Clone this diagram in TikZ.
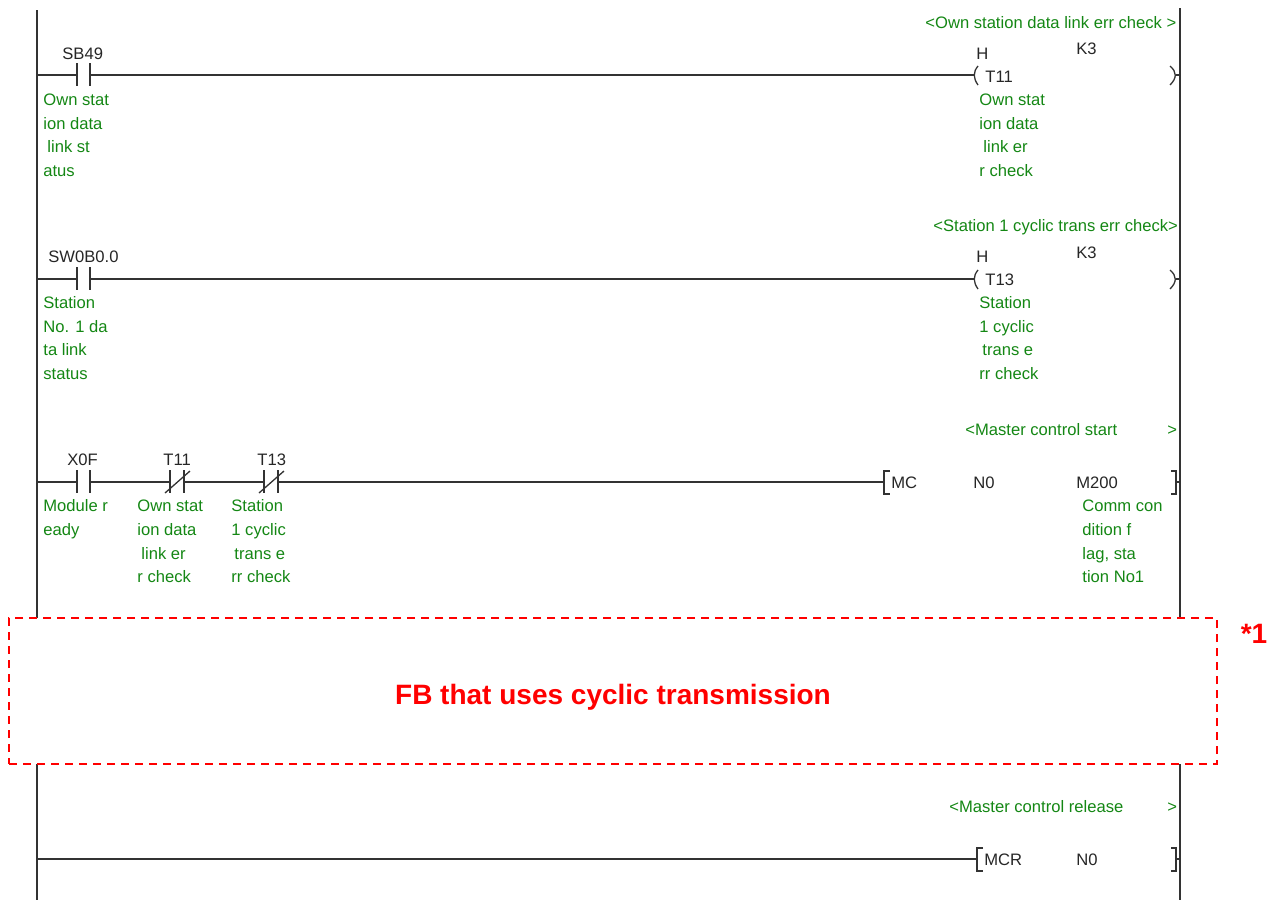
\documentclass[tikz,border=0pt]{standalone}
\usepackage{fontspec}
\setmainfont{Liberation Sans}
\usepackage{xcolor}
\usetikzlibrary{calc}
\definecolor{cmtgreen}{RGB}{20,135,20}
\definecolor{fbred}{RGB}{255,0,0}
\tikzset{
	wire/.style={line width=0.65pt,black!80},
	cmt/.style={anchor=base west,inner sep=0pt,text=cmtgreen,font=\fontsize{8.3}{10}\selectfont},
	dev/.style={anchor=base west,inner sep=0pt,text=black!85,font=\fontsize{8.3}{10}\selectfont},
	fbtxt/.style={inner sep=0pt,text=fbred,font=\fontsize{14}{16}\bfseries\selectfont}
}
\begin{document}
\begin{tikzpicture}[x=0.5pt,y=-0.5pt]
		\useasboundingbox (0,0) rectangle (1278,900);
		% rails
		\coordinate (railLa) at (37,10);
		\coordinate (railLb) at (37,618);
		\coordinate (railLc) at (37,764);
		\coordinate (railLd) at (37,900);
		\coordinate (railRa) at (1180,8);
		\coordinate (railRb) at (1180,618);
		\coordinate (railRc) at (1180,764);
		\coordinate (railRd) at (1180,900);
		\draw[wire] (railLa)--(railLb);
		\draw[wire] (railLc)--(railLd);
		\draw[wire] (railRa)--(railRb);
		\draw[wire] (railRc)--(railRd);
		% rung 1
		\coordinate (sbw) at (37,75);
		\coordinate (sba) at (77,75);
		\coordinate (sbb) at (90,75);
		\coordinate (tea) at (975,75);
		\coordinate (teb) at (1176,75);
		\coordinate (tee) at (1180,75);
		\draw[wire] (sbw)--(sba);
		\draw[wire] (sbb)--(tea);
		\draw[wire] (teb)--(tee);
		\draw[wire] ($(sba)+(0,-12)$)--($(sba)+(0,11)$);
		\draw[wire] ($(sbb)+(0,-12)$)--($(sbb)+(0,11)$);
		\draw[wire] ($(tea)+(3,-9)$) .. controls ($(tea)+(-2,-3)$) and ($(tea)+(-2,3)$) .. ($(tea)+(3,10)$);
		\draw[wire] ($(teb)+(-6,-9)$) .. controls ($(teb)+(1,-3)$) and ($(teb)+(1,3)$) .. ($(teb)+(-6,10)$);
		\node[cmt] (cmtA) at (925,28) {<Own station data link err check >};
		\node[dev] (sbname) at (62,59) {SB49};
		\node[dev] (teh) at (976,59) {H};
		\node[dev] (tek) at (1076,54) {K3};
		\node[dev] (tename) at (985,82) {T11};
		\node[cmt] (sbl1) at (43,105) {Own stat};
		\node[cmt] (sbl2) at (43,129) {ion data};
		\node[cmt] (sbl3) at (47,152) {link st};
		\node[cmt] (sbl4) at (43,176) {atus};
		\node[cmt] (tel1) at (979,105) {Own stat};
		\node[cmt] (tel2) at (979,129) {ion data};
		\node[cmt] (tel3) at (983,152) {link er};
		\node[cmt] (tel4) at (979,176) {r check};
		% rung 2
		\coordinate (swv) at (37,279);
		\coordinate (swa) at (77,279);
		\coordinate (swb) at (90,279);
		\coordinate (tfa) at (975,279);
		\coordinate (tfb) at (1176,279);
		\coordinate (tfe) at (1180,279);
		\draw[wire] (swv)--(swa);
		\draw[wire] (swb)--(tfa);
		\draw[wire] (tfb)--(tfe);
		\draw[wire] ($(swa)+(0,-12)$)--($(swa)+(0,11)$);
		\draw[wire] ($(swb)+(0,-12)$)--($(swb)+(0,11)$);
		\draw[wire] ($(tfa)+(3,-9)$) .. controls ($(tfa)+(-2,-3)$) and ($(tfa)+(-2,3)$) .. ($(tfa)+(3,10)$);
		\draw[wire] ($(tfb)+(-6,-9)$) .. controls ($(tfb)+(1,-3)$) and ($(tfb)+(1,3)$) .. ($(tfb)+(-6,10)$);
		\node[cmt] (cmtB) at (933,231) {<Station 1 cyclic trans err check>};
		\node[dev] (swname) at (48,262) {SW0B0.0};
		\node[dev] (tfh) at (976,262) {H};
		\node[dev] (tfk) at (1076,258) {K3};
		\node[dev] (tfname) at (985,285) {T13};
		\node[cmt] (swl1) at (43,308) {Station};
		\node[cmt] (swl2) at (43,332) {No. 1 da};
		\node[cmt] (swl3) at (43,355) {ta link};
		\node[cmt] (swl4) at (43,379) {status};
		\node[cmt] (tfl1) at (979,308) {Station};
		\node[cmt] (tfl2) at (979,332) {1 cyclic};
		\node[cmt] (tfl3) at (982,355) {trans e};
		\node[cmt] (tfl4) at (979,379) {rr check};
		% rung 3
		\coordinate (xw) at (37,482);
		\coordinate (xa) at (77,482);
		\coordinate (xb) at (90,482);
		\coordinate (ca) at (170,482);
		\coordinate (cb) at (184,482);
		\coordinate (da) at (264,482);
		\coordinate (db) at (278,482);
		\coordinate (mca) at (884,482);
		\coordinate (mcb) at (1176,482);
		\coordinate (mce) at (1180,482);
		\draw[wire] (xw)--(xa);
		\draw[wire] (xb)--(ca);
		\draw[wire] (cb)--(da);
		\draw[wire] (db)--(mca);
		\draw[wire] (mcb)--(mce);
		\draw[wire] ($(xa)+(0,-12)$)--($(xa)+(0,11)$);
		\draw[wire] ($(xb)+(0,-12)$)--($(xb)+(0,11)$);
		\draw[wire] ($(ca)+(0,-12)$)--($(ca)+(0,11)$);
		\draw[wire] ($(cb)+(0,-12)$)--($(cb)+(0,11)$);
		\draw[wire] ($(ca)+(-5,11)$)--($(cb)+(6,-11)$);
		\draw[wire] ($(da)+(0,-12)$)--($(da)+(0,11)$);
		\draw[wire] ($(db)+(0,-12)$)--($(db)+(0,11)$);
		\draw[wire] ($(da)+(-5,11)$)--($(db)+(6,-11)$);
		\draw[wire] ($(mca)+(6,-11)$)--($(mca)+(0,-11)$)--($(mca)+(0,12)$)--($(mca)+(6,12)$);
		\draw[wire] ($(mcb)+(-5,-11)$)--($(mcb)+(0,-11)$)--($(mcb)+(0,12)$)--($(mcb)+(-5,12)$);
		\node[cmt] (cmtC) at (965,435) {<Master control start};
		\node[cmt] (cmtCe) at (1167,435) {>};
		\node[dev] (xname) at (67,465) {X0F};
		\node[dev] (cname) at (163,465) {T11};
		\node[dev] (dname) at (257,465) {T13};
		\node[dev] (mcname) at (891,488) {MC};
		\node[dev] (mcn) at (973,488) {N0};
		\node[dev] (mcm) at (1076,488) {M200};
		\node[cmt] (xl1) at (43,511) {Module r};
		\node[cmt] (xl2) at (43,535) {eady};
		\node[cmt] (cl1) at (137,511) {Own stat};
		\node[cmt] (cl2) at (137,535) {ion data};
		\node[cmt] (cl3) at (141,559) {link er};
		\node[cmt] (cl4) at (137,582) {r check};
		\node[cmt] (dl1) at (231,511) {Station};
		\node[cmt] (dl2) at (231,535) {1 cyclic};
		\node[cmt] (dl3) at (234,559) {trans e};
		\node[cmt] (dl4) at (231,582) {rr check};
		\node[cmt] (ml1) at (1082,511) {Comm con};
		\node[cmt] (ml2) at (1082,535) {dition f};
		\node[cmt] (ml3) at (1082,559) {lag, sta};
		\node[cmt] (ml4) at (1082,582) {tion No1};
		% FB box
		\node[draw=fbred,dash pattern=on 4pt off 3pt,line width=0.7pt,minimum width=604pt,minimum height=73pt,inner sep=0pt] (fbbox) at (613,691) {};
		\node[fbtxt] (fbname) at (613,697) {FB that uses cyclic transmission};
		\node[fbtxt] (fbmark) at (1254,634) {*1};
		% rung 4
		\coordinate (rw) at (37,859);
		\coordinate (ra) at (977,859);
		\coordinate (rb) at (1176,859);
		\coordinate (re) at (1180,859);
		\draw[wire] (rw)--(ra);
		\draw[wire] (rb)--(re);
		\draw[wire] ($(ra)+(6,-11)$)--($(ra)+(0,-11)$)--($(ra)+(0,12)$)--($(ra)+(6,12)$);
		\draw[wire] ($(rb)+(-5,-11)$)--($(rb)+(0,-11)$)--($(rb)+(0,12)$)--($(rb)+(-5,12)$);
		\node[cmt] (cmtD) at (949,812) {<Master control release};
		\node[cmt] (cmtDe) at (1167,812) {>};
		\node[dev] (mcrname) at (984,865) {MCR};
		\node[dev] (mcrn) at (1076,865) {N0};
	\end{tikzpicture}
\end{document}
